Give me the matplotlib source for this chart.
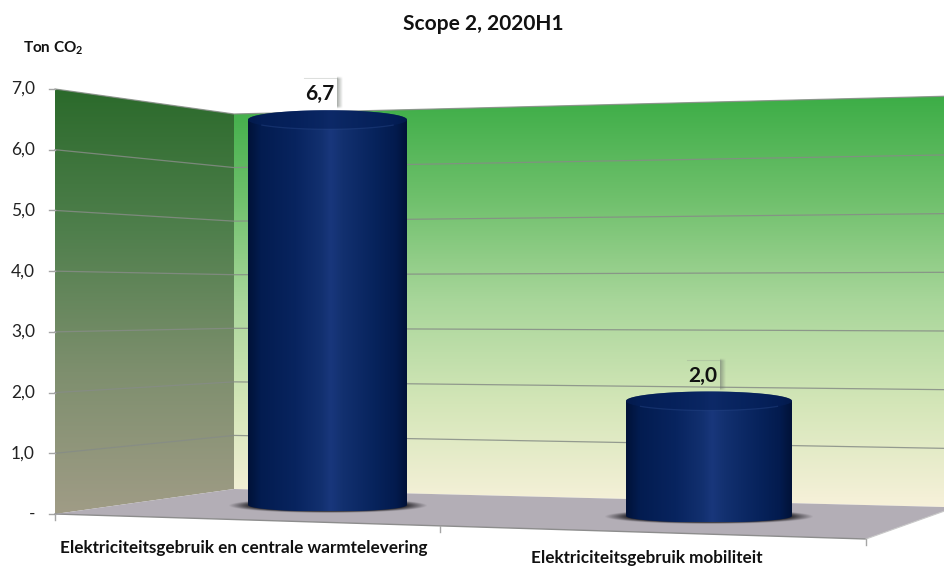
import numpy as np
import matplotlib
matplotlib.use('Agg')
import matplotlib.pyplot as plt
from matplotlib.colors import LinearSegmentedColormap
from matplotlib.patches import Polygon, Rectangle

plt.rcParams['font.family'] = ['Lato', 'DejaVu Sans']
plt.rcParams['mathtext.fontset'] = 'custom'
plt.rcParams['mathtext.bf'] = 'Lato:bold'

# Data
title = 'Scope 2, 2020H1'
unit_prefix = 'Ton CO'
categories = ['Elektriciteitsgebruik en centrale warmtelevering', 'Elektriciteitsgebruik mobiliteit']
values = [6.7, 2.0]
y_ticks = [0, 1, 2, 3, 4, 5, 6, 7]
y_tick_labels = ['-', '1,0', '2,0', '3,0', '4,0', '5,0', '6,0', '7,0']

# 3D box corners in figure pixels, value 0 and value 7
front_left = (55, 514, 89)
back_left = (234, 489, 114)
back_right = (955, 507.3, 96)
front_right = (866, 539)
y_max = 7
unit_px = 57.5


def wall_y(corner, v):
    return corner[1] + (corner[2] - corner[1]) * v / y_max


def vertical_fill(ax, cmap, corners, z):
    xs = [c[0] for c in corners]
    ys = [c[1] for c in corners]
    grad = np.linspace(0, 1, 256).reshape(-1, 1)
    im = ax.imshow(grad, cmap=cmap, extent=[min(xs), max(xs), max(ys), min(ys)],
                   aspect='auto', zorder=z)
    poly = Polygon(corners, closed=True, transform=ax.transData, fc='none', ec='none')
    ax.add_patch(poly)
    im.set_clip_path(poly)


def soft_box(ax, x0, x1, y0, y1, color, strength, z):
    # rectangle whose alpha fades out to the right and at both ends
    n = 60
    u = np.linspace(0, 1, n)
    across = 1 - u
    along = np.clip(np.minimum(u, 1 - u) * 12, 0, 1)
    rgba = np.zeros((n, n, 4))
    rgba[..., 0:3] = color
    rgba[..., 3] = np.outer(along, across) * strength
    ax.imshow(rgba, extent=[x0, x1, y1, y0], aspect='auto', zorder=z)


def cylinder(ax, cx, rx, base_y, value, shadow_rx):
    top_y = base_y - value * unit_px
    ry_top, ry_base = 9.5, 6.5

    # soft contact shadow on the floor
    sx = np.linspace(-1, 1, 200)
    sy = np.linspace(-1, 1, 60)
    xx, yy = np.meshgrid(sx, sy)
    r = np.sqrt(xx ** 2 + yy ** 2)
    rgba = np.zeros((60, 200, 4))
    rgba[..., 0:3] = (0.14, 0.13, 0.15)
    rgba[..., 3] = np.clip((1 - r) * 4.5, 0, 1) * 0.95
    ax.imshow(rgba, extent=[cx - shadow_rx, cx + shadow_rx, base_y + 8, base_y - 7],
              aspect='auto', zorder=4)

    # silhouette of the cylinder, shaded across its width
    t = np.linspace(0, np.pi, 80)
    lower = np.column_stack([cx + rx * np.cos(t), base_y + ry_base * np.sin(t)])
    t = np.linspace(np.pi, 2 * np.pi, 80)
    upper = np.column_stack([cx + rx * np.cos(t), top_y + ry_top * np.sin(t)])
    body = np.vstack([lower, upper])
    side_cmap = LinearSegmentedColormap.from_list('side', [
        (0.0, '#011238'), (0.08, '#031c50'), (0.30, '#08245f'),
        (0.46, '#12306f'), (0.52, '#19377c'), (0.60, '#12306f'),
        (0.80, '#07235c'), (0.93, '#031b4e'), (1.0, '#011238')])
    grad = np.linspace(0, 1, 256).reshape(1, -1)
    im = ax.imshow(grad, cmap=side_cmap,
                   extent=[cx - rx, cx + rx, base_y + ry_base, top_y - ry_top],
                   aspect='auto', zorder=5)
    patch = Polygon(body, closed=True, transform=ax.transData, fc='none', ec='none')
    ax.add_patch(patch)
    im.set_clip_path(patch)

    # top face stays dark with a faint rim in the middle
    t = np.linspace(0, 2 * np.pi, 160)
    top = np.column_stack([cx + rx * np.cos(t), top_y + ry_top * np.sin(t)])
    ax.add_patch(Polygon(top, closed=True, fc='#05205a', ec='none', alpha=0.6, zorder=6))
    t = np.linspace(0.6, np.pi - 0.6, 60)
    ax.plot(cx + rx * np.cos(t), top_y + ry_top * np.sin(t), color='#2a4a8c', lw=0.9,
            alpha=0.4, zorder=7)


def value_label(ax, text, x, y, w, h, fill):
    # soft shadow down the right side, faint top edge, then box and text
    soft_box(ax, x + w, x + w + 6, y - 3, y + h + 1, (0.42, 0.45, 0.42), 0.6, 8)
    ax.plot([x, x + w], [y - 1, y - 1], color='#8f968f', lw=0.8, alpha=0.3, zorder=8)
    if fill is not None:
        ax.add_patch(Rectangle((x, y), w, h, fc=fill, ec='none', zorder=8))
    ax.text(x + w / 2 - 1, y + h / 2 + 0.5, text, ha='center', va='center', fontsize=15,
            fontweight='bold', color='#111111', zorder=9)


fig = plt.figure(figsize=(9.45, 5.67), dpi=100)
ax = fig.add_axes([0, 0, 1, 1])

# walls and floor
left_cmap = LinearSegmentedColormap.from_list('left', ['#2b6a2b', '#4f7f4c', '#7e8f6e', '#a09c86'])
back_cmap = LinearSegmentedColormap.from_list('back', ['#3cad46', '#6fc06c', '#a8d69a', '#d4e6b8', '#f7f1da'])
vertical_fill(ax, left_cmap, [(55, 89), (234, 114), (234, 489), (55, 514)], 1)
vertical_fill(ax, back_cmap, [(234, 114), (955, 96), (955, 507.3), (234, 489)], 1)
ax.add_patch(Polygon([(55, 514), (234, 489), (955, 507.3), (866, 539)], closed=True,
                     fc='#b3aeb6', ec='none', zorder=2))

# gridlines follow the left and back walls
for v in y_ticks:
    yl, yb, yr = wall_y(front_left, v), wall_y(back_left, v), wall_y(back_right, v)
    if v > 0:
        ax.plot([55, 234, 955], [yl, yb, yr], color='#868c86', lw=0.9, alpha=0.85, zorder=3)
    ax.plot([49, 55], [yl, yl], color='#a5a5a5', lw=1.0, zorder=3)

# floor front edge and its ticks
ax.plot([55, 866], [514, 539], color='#8d8d8d', lw=1.0, zorder=3)
ax.plot([866, 955], [539, 507.3], color='#c9c9c9', lw=0.8, zorder=3)
for x, y in [(55, 514), (440, 526), (866, 539)]:
    ax.plot([x, x], [y, y + 6], color='#a5a5a5', lw=1.0, zorder=3)

for t, v in zip(y_tick_labels, y_ticks):
    ax.text(35, wall_y(front_left, v), t, ha='right', va='center', fontsize=12.5, color='#222222')

cylinder(ax, 327.5, 79.5, 505, values[0], 100)
cylinder(ax, 709, 83, 516, values[1], 105)

value_label(ax, f'{values[0]:.1f}'.replace('.', ','), 304, 79, 33, 29, 'white')
value_label(ax, f'{values[1]:.1f}'.replace('.', ','), 687, 361, 33, 29, None)

ax.text(483, 24, title, ha='center', va='center', fontsize=15, fontweight='bold', color='#111111')
ax.text(23, 48, unit_prefix + r'$\mathbf{_2}$', ha='left', va='center', fontsize=11,
        fontweight='bold', color='#111111')
ax.text(244, 548, categories[0], ha='center', va='center', fontsize=12.3, fontweight='bold', color='#111111')
ax.text(647, 558, categories[1], ha='center', va='center', fontsize=12.3, fontweight='bold', color='#111111')

ax.set_xlim(0, 945)
ax.set_ylim(567, 0)
ax.axis('off')

fig.savefig('out.png', dpi=100)
